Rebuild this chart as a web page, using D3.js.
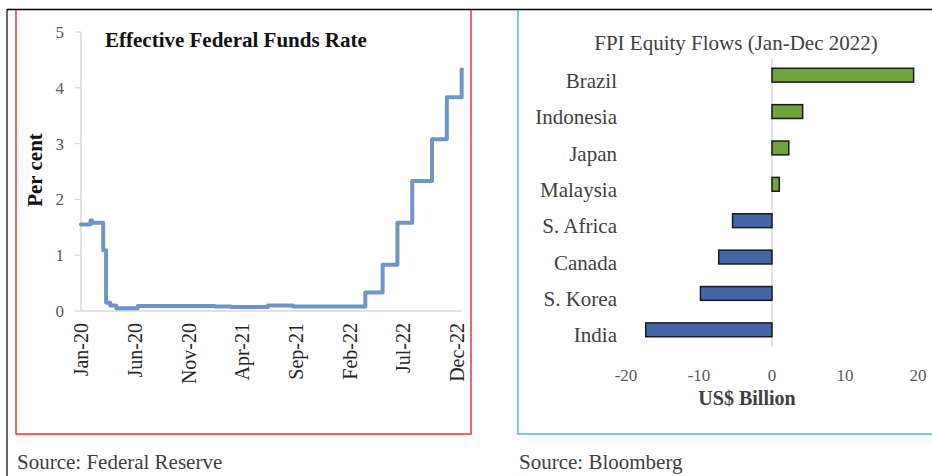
<!DOCTYPE html>
<html>
<head>
<meta charset="utf-8">
<script src="https://cdn.jsdelivr.net/npm/d3@7"></script>
<style>
  body { margin: 0; background: #fff; }
  svg { display: block; font-family: "Liberation Serif", "Times New Roman", serif; }
</style>
</head>
<body>
<svg id="chart" width="932" height="476"></svg>
<script>
// Effective Federal Funds Rate (change points, per cent)
var rateDates = ["2020-01-01", "2020-01-28", "2020-02-01", "2020-03-04", "2020-03-12", "2020-03-24",
    "2020-04-10", "2020-06-10", "2021-01-15", "2021-03-01", "2021-06-14", "2021-08-24",
    "2022-03-17", "2022-05-05", "2022-06-16", "2022-07-28", "2022-09-22", "2022-11-03",
    "2022-12-15", "2022-12-16"];
var rateValues = [1.55, 1.62, 1.58, 1.09, 0.15, 0.10,
    0.05, 0.09, 0.08, 0.07, 0.10, 0.08,
    0.33, 0.83, 1.58, 2.33, 3.08, 3.83,
    4.33, 4.33];
var rateTickLabels = ["Jan-20", "Jun-20", "Nov-20", "Apr-21", "Sep-21", "Feb-22", "Jul-22", "Dec-22"];
var rateYTicks = [0, 1, 2, 3, 4, 5];

// FPI equity flows Jan-Dec 2022 (US$ billion)
var countries = ["Brazil", "Indonesia", "Japan", "Malaysia", "S. Africa", "Canada", "S. Korea", "India"];
var flows = [19.4, 4.2, 2.3, 1.0, -5.4, -7.3, -9.8, -17.3];
var flowTicks = [-20, -10, 0, 10, 20];

var svg = d3.select("#chart");
var parseDay = d3.timeParse("%Y-%m-%d");
var parseMonth = d3.timeParse("%b-%y");

// frame lines
svg.append("line").attr("x1", 7).attr("x2", 932).attr("y1", 9.5).attr("y2", 9.5)
    .attr("stroke", "#000").attr("stroke-width", 1.5);
svg.append("line").attr("x1", 7).attr("x2", 7).attr("y1", 9).attr("y2", 476)
    .attr("stroke", "#000").attr("stroke-width", 1.2);
svg.append("path").attr("d", "M16,10 V434 H471 V10")
    .attr("fill", "none").attr("stroke", "#ee3535").attr("stroke-width", 1.5);
svg.append("path").attr("d", "M518,10 V434 H932")
    .attr("fill", "none").attr("stroke", "#6fcdee").attr("stroke-width", 2);

// ---------- left chart ----------
var rateData = rateDates.map(function (d, i) { return { date: parseDay(d), v: rateValues[i] }; });

var x = d3.scaleTime()
    .domain([parseDay("2020-01-01"), parseDay("2022-12-16")])
    .range([81, 462]);
var y = d3.scaleLinear().domain([0, 5]).range([311, 32]);

// axis lines
svg.append("line").attr("x1", 81).attr("x2", 81).attr("y1", y(5)).attr("y2", y(0))
    .attr("stroke", "#d9d9d9").attr("stroke-width", 1.5);
svg.append("line").attr("x1", 81).attr("x2", 462).attr("y1", y(0)).attr("y2", y(0))
    .attr("stroke", "#d9d9d9").attr("stroke-width", 1.5);

svg.selectAll(".ytick")
    .data(rateYTicks)
    .enter()
    .append("line")
    .attr("class", "ytick")
    .attr("x1", 75).attr("x2", 81)
    .attr("y1", function (d) { return y(d); })
    .attr("y2", function (d) { return y(d); })
    .attr("stroke", "#d9d9d9").attr("stroke-width", 1.2);

svg.selectAll(".ylab")
    .data(rateYTicks)
    .enter()
    .append("text")
    .attr("class", "ylab")
    .attr("x", 64)
    .attr("y", function (d) { return y(d); })
    .attr("dy", "0.35em")
    .attr("text-anchor", "end")
    .style("font-size", "17px")
    .style("fill", "#595959")
    .text(function (d) { return d; });

svg.selectAll(".xlab")
    .data(rateTickLabels)
    .enter()
    .append("text")
    .attr("class", "xlab")
    .attr("transform", function (d) { return "translate(" + x(parseMonth(d)) + ",323) rotate(-90)"; })
    .attr("dy", "0.35em")
    .attr("text-anchor", "end")
    .style("font-size", "20px")
    .style("fill", "#262626")
    .text(function (d) { return d; });

svg.append("path")
    .datum(rateData)
    .attr("fill", "none")
    .attr("stroke", "#7094c8")
    .attr("stroke-width", 4)
    .attr("stroke-linejoin", "round")
    .attr("stroke-linecap", "round")
    .attr("d", d3.line()
        .curve(d3.curveStepAfter)
        .x(function (d) { return x(d.date); })
        .y(function (d) { return y(d.v); }));

svg.append("text")
    .attr("x", 105).attr("y", 47)
    .style("font-size", "21px").style("font-weight", "bold").style("fill", "#111")
    .text("Effective Federal Funds Rate");

svg.append("text")
    .attr("transform", "translate(35,170) rotate(-90)")
    .attr("dy", "0.35em")
    .attr("text-anchor", "middle")
    .style("font-size", "21px").style("font-weight", "bold").style("fill", "#111")
    .text("Per cent");

// ---------- right chart ----------
var bx = d3.scaleLinear().domain([-20, 20]).range([626, 918]);
var by = d3.scaleBand().domain(countries).range([57, 348])
    .paddingInner(0.62).paddingOuter(0.31);

svg.append("text")
    .attr("x", 736).attr("y", 50)
    .attr("text-anchor", "middle")
    .style("font-size", "21px").style("fill", "#404040")
    .text("FPI Equity Flows (Jan-Dec 2022)");

svg.append("line")
    .attr("x1", bx(0)).attr("x2", bx(0)).attr("y1", 58).attr("y2", 347)
    .attr("stroke", "#d9d9d9").attr("stroke-width", 1.5);

svg.selectAll(".bar")
    .data(countries)
    .enter()
    .append("rect")
    .attr("class", "bar")
    .attr("x", function (d, i) { return Math.min(bx(0), bx(flows[i])); })
    .attr("y", function (d) { return by(d); })
    .attr("width", function (d, i) { return Math.abs(bx(flows[i]) - bx(0)); })
    .attr("height", by.bandwidth())
    .attr("fill", function (d, i) { return flows[i] >= 0 ? "#70a23e" : "#4566a6"; })
    .attr("stroke", "#1a1a1a")
    .attr("stroke-width", 1.5);

svg.selectAll(".clab")
    .data(countries)
    .enter()
    .append("text")
    .attr("class", "clab")
    .attr("x", 617)
    .attr("y", function (d) { return by(d) + by.bandwidth() / 2; })
    .attr("dy", "0.6em")
    .attr("text-anchor", "end")
    .style("font-size", "21px").style("fill", "#404040")
    .text(function (d) { return d; });

svg.selectAll(".btick")
    .data(flowTicks)
    .enter()
    .append("text")
    .attr("class", "btick")
    .attr("x", function (d) { return bx(d); })
    .attr("y", 381)
    .attr("text-anchor", "middle")
    .style("font-size", "17px").style("fill", "#595959")
    .text(function (d) { return d; });

svg.append("text")
    .attr("x", 747).attr("y", 405)
    .attr("text-anchor", "middle")
    .style("font-size", "20px").style("font-weight", "bold").style("fill", "#404040")
    .text("US$ Billion");

// sources
svg.append("text").attr("x", 17).attr("y", 469)
    .style("font-size", "21px").style("fill", "#404040")
    .text("Source: Federal Reserve");
svg.append("text").attr("x", 519).attr("y", 469)
    .style("font-size", "21px").style("fill", "#404040")
    .text("Source: Bloomberg");
</script>
</body>
</html>
